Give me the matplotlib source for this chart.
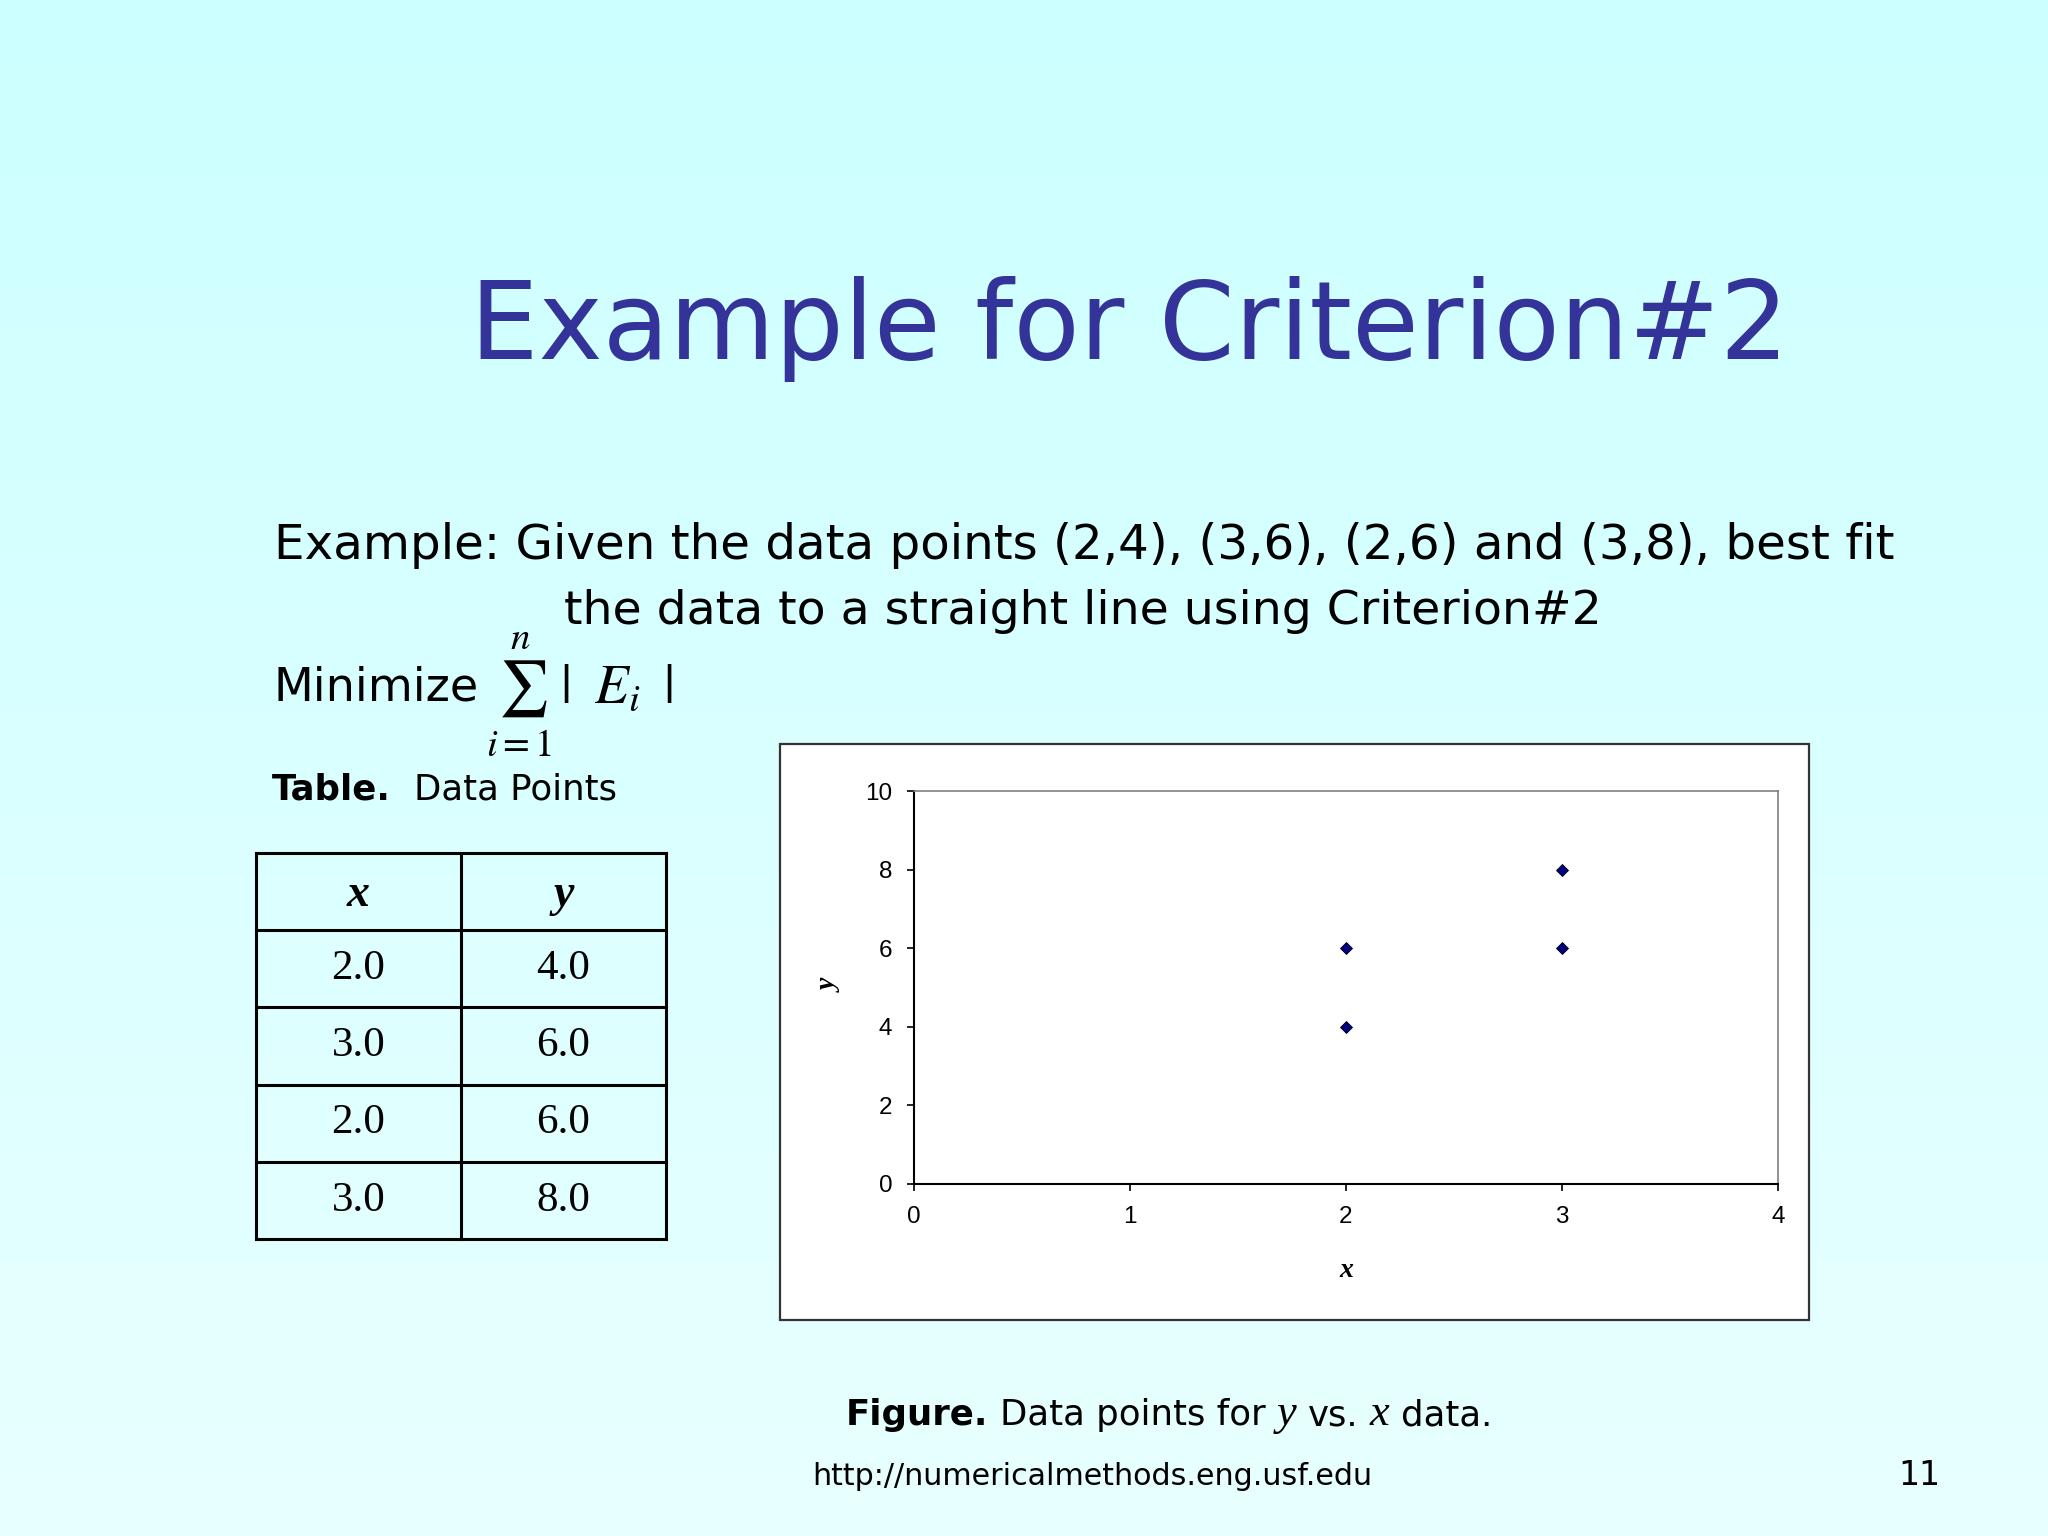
import matplotlib
matplotlib.use('Agg')
import matplotlib.pyplot as plt
import numpy as np
from matplotlib.patches import Rectangle

# ---------------- data ----------------
x_vals = [2.0, 3.0, 2.0, 3.0]
y_vals = [4.0, 6.0, 6.0, 8.0]
col_headers = ['x', 'y']
x_ticks = [0, 1, 2, 3, 4]
y_ticks = [0, 2, 4, 6, 8, 10]

title_text = 'Example for Criterion#2'
line1_text = 'Example: Given the data points (2,4), (3,6), (2,6) and (3,8), best fit'
line2_text = 'the data to a straight line using Criterion#2'
minimize_text = 'Minimize'
formula_text = r'$\sum_{i=1}^{n}\,|\;\;E_i\;\;|$'
footer_text = 'http://numericalmethods.eng.usf.edu'
page_text = '11'

# ---------------- figure ----------------
W, H, DPI = 2048, 1536, 100
fig = plt.figure(figsize=(W / DPI, H / DPI), dpi=DPI)
renderer = fig.canvas.get_renderer()

def fx(x):
    return x / W

def fy(y):
    return 1 - y / H

# background gradient
bg = fig.add_axes([0, 0, 1, 1], zorder=-10)
top = np.array([0xCC, 0xFF, 0xFF]) / 255
bot = np.array([0xE8, 0xFF, 0xFF]) / 255
t = np.linspace(0, 1, 256)[:, None]
grad = top[None, :] * (1 - t) + bot[None, :] * t
bg.imshow(grad[:, None, :], extent=[0, 1, 0, 1], aspect='auto')
bg.set_axis_off()

SANS = 'DejaVu Sans'
SERIF = 'Liberation Serif'


def place_seq(pieces, x0, base, width, gap_em=0.32, ref=40, color='black'):
    """pieces: list of (text, kwargs). Sized so that total width = width px."""
    def lay(sz):
        objs = []
        x = x0
        szpx = sz * DPI / 72
        for i, (s, kw) in enumerate(pieces):
            if i > 0:
                x += gap_em * szpx * kw.get('gap', 1.0)
            kk = {k: v for k, v in kw.items() if k not in ('gap', 'scale')}
            kk.setdefault('family', SANS)
            kk.setdefault('color', color)
            tt = fig.text(fx(x), fy(base), s, fontsize=sz * kw.get('scale', 1.0),
                          ha='left', va='baseline', **kk)
            bb = tt.get_window_extent(renderer)
            x += bb.width
            objs.append(tt)
        return objs, x - x0
    objs, w = lay(ref)
    for o in objs:
        o.remove()
    sz = ref * width / w
    objs, w = lay(sz)
    return sz


# title
place_seq([(title_text, {'color': '#333399'})], 470, 359, 1319, ref=90)

# body lines
place_seq([(line1_text, {})], 274, 559, 1620)
place_seq([(line2_text, {})], 564, 624, 1037)

# Minimize + formula
place_seq([(minimize_text, {})], 274, 701, 205)
fig.text(fx(486), fy(703), formula_text, fontsize=40, math_fontfamily='stix',
         ha='left', va='baseline', color='black')

# table caption
place_seq([('Table.', {'weight': 'bold'}), ('Data Points', {'gap': 2.0})],
          272, 800, 344)

# ---------------- table ----------------
tx0, tx1, ty0, ty1 = 256, 666, 853, 1239
tab = fig.add_axes([fx(tx0), fy(ty1), (tx1 - tx0) / W, (ty1 - ty0) / H])
tab.set_xlim(0, 2)
tab.set_ylim(len(x_vals) + 1, 0)
tab.set_axis_off()
for r in range(len(x_vals) + 2):
    tab.plot([0, 2], [r, r], color='black', lw=2.2, clip_on=False,
             solid_capstyle='projecting')
for c in range(3):
    tab.plot([c, c], [0, len(x_vals) + 1], color='black', lw=2.2,
             clip_on=False, solid_capstyle='projecting')
for c, h in enumerate(col_headers):
    tab.text(c + 0.5, 0.55, h, family=SERIF, style='italic', weight='bold',
             fontsize=33, ha='center', va='center')
for r, (xv, yv) in enumerate(zip(x_vals, y_vals)):
    tab.text(0.5, r + 1.5, f'{xv:.1f}', family=SERIF, fontsize=31,
             ha='center', va='center')
    tab.text(1.5, r + 1.5, f'{yv:.1f}', family=SERIF, fontsize=31,
             ha='center', va='center')

# ---------------- chart ----------------
box = Rectangle((fx(780), fy(1320)), (1809 - 780) / W, (1320 - 744) / H,
                transform=fig.transFigure, facecolor='white',
                edgecolor='#333333', lw=1.6, zorder=1)
fig.add_artist(box)

ax = fig.add_axes([fx(914), fy(1184), (1778 - 914) / W, (1184 - 791) / H],
                  zorder=2)
ax.set_facecolor('white')
ax.plot(x_vals, y_vals, linestyle='none', marker='D', markersize=6.5,
        markerfacecolor='#000080', markeredgecolor='black',
        markeredgewidth=0.6, clip_on=False)
ax.set_xlim(x_ticks[0], x_ticks[-1])
ax.set_ylim(y_ticks[0], y_ticks[-1])
ax.set_xticks(x_ticks)
ax.set_yticks(y_ticks)
ax.set_xticklabels([str(v) for v in x_ticks])
ax.set_yticklabels([str(v) for v in y_ticks])
for sp in ['top', 'right']:
    ax.spines[sp].set_color('#808080')
    ax.spines[sp].set_linewidth(1.2)
for sp in ['left', 'bottom']:
    ax.spines[sp].set_color('black')
    ax.spines[sp].set_linewidth(1.5)
ax.tick_params(direction='out', length=5, width=1.2, colors='black',
               labelsize=17.5, labelfontfamily='Liberation Sans')
ax.tick_params(axis='x', pad=11)
ax.tick_params(axis='y', pad=10.5)
ax.set_xlabel('x', family=SERIF, style='italic', weight='bold', fontsize=20)
ax.set_ylabel('y', family=SERIF, style='italic', weight='bold', fontsize=20)
ax.xaxis.set_label_coords(0.5, -0.221)
ax.xaxis.label.set_va('center')
ax.yaxis.set_label_coords(-0.097, 0.504)
ax.yaxis.label.set_va('center')

# figure caption
place_seq([('Figure.', {'weight': 'bold'}),
           ('Data points for', {}),
           ('y', {'family': SERIF, 'style': 'italic', 'scale': 1.25}),
           ('vs.', {}),
           ('x', {'family': SERIF, 'style': 'italic', 'scale': 1.25}),
           ('data.', {})],
          846, 1425, 646)

# footer
fsz = place_seq([(footer_text, {})], 812, 1485, 559)
fig.text(fx(1940), fy(1485), page_text, fontsize=fsz * 1.1, family=SANS,
         ha='right', va='baseline', color='black')

fig.savefig('out.png', dpi=DPI)
